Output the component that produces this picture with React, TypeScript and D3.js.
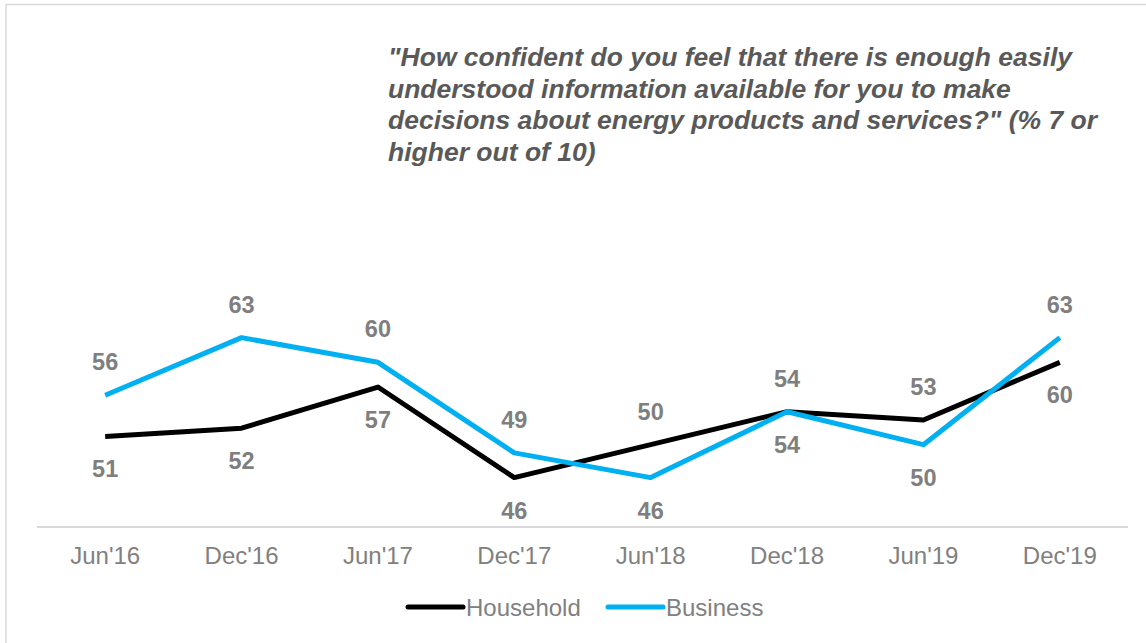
import React from "react";
import * as d3 from "d3";

const categories = ["Jun'16", "Dec'16", "Jun'17", "Dec'17", "Jun'18", "Dec'18", "Jun'19", "Dec'19"];
const household = [51, 52, 57, 46, 50, 54, 53, 60];
const business = [56, 63, 60, 49, 46, 54, 50, 63];
// label placement: 1 = above point, -1 = below point
const householdLabelPos = [-1, -1, -1, -1, 1, 1, 1, -1];
const businessLabelPos = [1, 1, 1, 1, -1, -1, -1, 1];
const titleLines = [
  "\"How confident do you feel that there is enough easily",
  "understood information available for you to make",
  "decisions about energy products and services?\" (% 7 or",
  "higher out of 10)",
];

const W = 1146;
const H = 643;
const FONT = "Liberation Sans, Arial, sans-serif";

export default function App() {
  const x = d3.scaleBand<string>().domain(categories).range([37, 1128]);
  const y = d3.scaleLinear().domain([40, 70]).range([527, 280]);
  const cx = (c: string) => (x(c) as number) + x.bandwidth() / 2;
  const line = d3
    .line<number>()
    .x((_, i) => cx(categories[i]))
    .y((v) => y(v));

  const series = [
    { name: "Household", values: household, color: "#000000", pos: householdLabelPos },
    { name: "Business", values: business, color: "#00b0f0", pos: businessLabelPos },
  ];

  return (
    <svg
      width={W}
      height={H}
      style={{ position: "absolute", left: 0, top: 0, fontFamily: FONT }}
    >
      <rect x={0} y={0} width={W} height={H} fill="#ffffff" />
      <rect x={6} y={4.5} width={W + 20} height={H + 20} fill="none" stroke="#d9d9d9" strokeWidth={1.5} />
      {titleLines.map((t, i) => (
        <text
          key={i}
          x={388}
          y={57 + i * 31.7}
          dominantBaseline="central"
          fontSize={26.5}
          fontWeight="bold"
          fontStyle="italic"
          fill="#595959"
        >
          {t}
        </text>
      ))}
      <line x1={37} x2={1128} y1={527} y2={527} stroke="#d9d9d9" strokeWidth={2} />
      {categories.map((c) => (
        <text
          key={c}
          x={cx(c)}
          y={555}
          textAnchor="middle"
          dominantBaseline="central"
          fontSize={24}
          fill="#808080"
        >
          {c}
        </text>
      ))}
      {series.map((s) => (
        <path
          key={s.name}
          d={line(s.values) || ""}
          fill="none"
          stroke={s.color}
          strokeWidth={5}
          strokeLinejoin="round"
        />
      ))}
      {series.map((s) =>
        s.values.map((v, i) => (
          <text
            key={s.name + i}
            x={cx(categories[i])}
            y={y(v) - s.pos[i] * 33}
            textAnchor="middle"
            dominantBaseline="central"
            fontSize={23.5}
            fontWeight="bold"
            fill="#7f7f7f"
          >
            {v}
          </text>
        ))
      )}
      {series.map((s, i) => {
        const lx = 408 + i * 200;
        return (
          <g key={"leg" + s.name}>
            <line x1={lx} x2={lx + 55} y1={607} y2={607} stroke={s.color} strokeWidth={5} strokeLinecap="round" />
            <text x={lx + 58} y={607} dominantBaseline="central" fontSize={24} fill="#808080">
              {s.name}
            </text>
          </g>
        );
      })}
    </svg>
  );
}
